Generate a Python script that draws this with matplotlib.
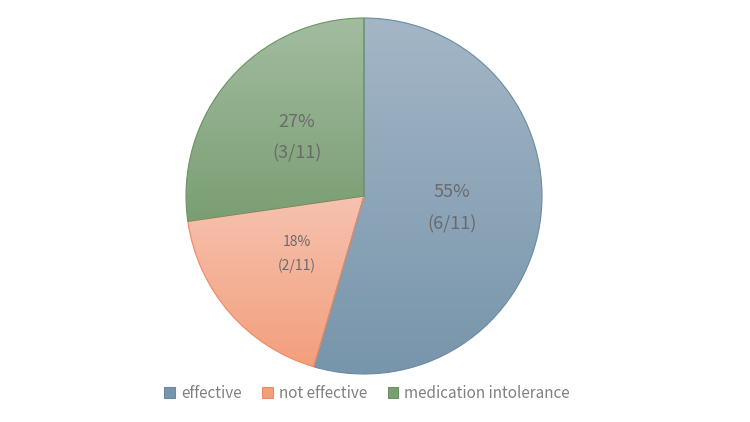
import matplotlib
matplotlib.use('Agg')
import matplotlib.pyplot as plt
from matplotlib.colors import LinearSegmentedColormap
import numpy as np

plt.rcParams['font.family'] = ['Noto Sans CJK JP', 'DejaVu Sans']

categories = ['effective', 'not effective', 'medication intolerance']
counts = [6, 2, 3]
total = sum(counts)

# top/bottom gradient colours and edge colour per slice
grad_top = ['#a4b6c6', '#f6c2b0', '#a3bca0']
grad_bot = ['#7795ab', '#f39f7c', '#7a9e73']
edges = ['#6a8aa3', '#ee8a62', '#6b9363']
label_sizes = [13, 10, 13]

fig = plt.figure(figsize=(7.5, 4.22), dpi=100)
ax = fig.add_axes([0, 0, 1, 1])

cx, cy, R = 364, 422 - 196, 178

def fmt(i):
    pct = counts[i] / total * 100
    return '%d%%\n(%d/%d)' % (round(pct), counts[i], total)

wedges, texts, autotexts = ax.pie(
    counts, startangle=90, counterclock=False, center=(cx, cy), radius=R,
    autopct=lambda p: '', pctdistance=0.5,
    wedgeprops=dict(linewidth=0.8), frame=True)

for i, w in enumerate(wedges):
    w.set_facecolor('none')
    w.set_edgecolor(edges[i])
    w.set_zorder(3)
    # vertical gradient clipped to wedge
    bb = w.get_path().get_extents(w.get_patch_transform())
    cmap = LinearSegmentedColormap.from_list('g%d' % i, [grad_bot[i], grad_top[i]])
    grad = np.linspace(0, 1, 256).reshape(-1, 1)
    im = ax.imshow(grad, cmap=cmap, origin='lower', aspect='auto',
                   extent=[bb.x0, bb.x1, bb.y0, bb.y1], zorder=2)
    im.set_clip_path(w)
    t = autotexts[i]
    t.set_text(fmt(i))
    t.set_fontsize(label_sizes[i])
    t.set_color('#6b6b6b')
    t.set_linespacing(2.0 if label_sizes[i] > 11 else 1.8)
    t.set_zorder(5)

ax.set_xlim(0, 750)
ax.set_ylim(0, 422)
ax.set_aspect('equal')
ax.axis('off')

handles = [plt.Rectangle((0, 0), 1, 1, facecolor=grad_bot[i],
                         edgecolor=edges[i], linewidth=0.8) for i in range(3)]
leg = fig.legend(handles, categories, loc='center', bbox_to_anchor=(367 / 750, 1 - 393 / 422),
                 ncol=3, frameon=False, fontsize=11, handlelength=0.7, handleheight=0.7,
                 handletextpad=0.38, columnspacing=1.35)
for t in leg.get_texts():
    t.set_color('#808080')

fig.savefig('out.png', dpi=100)
